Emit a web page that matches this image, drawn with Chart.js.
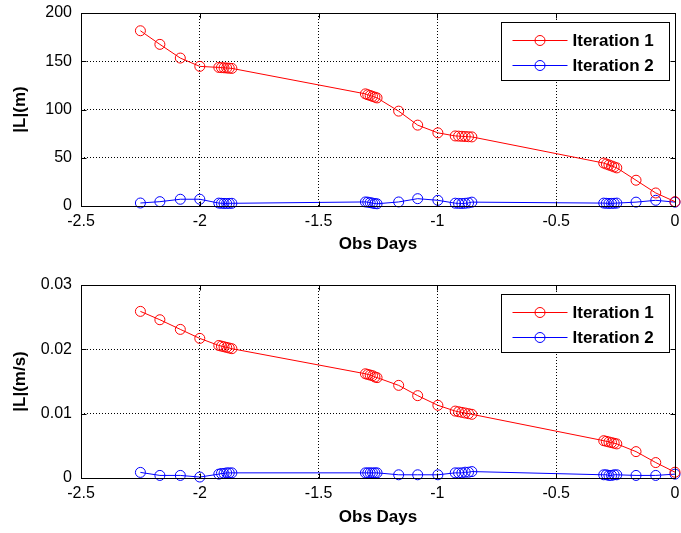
<!DOCTYPE html>
<html>
<head>
<meta charset="utf-8">
<script src="https://cdn.jsdelivr.net/npm/chart.js@4.4.1/dist/chart.umd.min.js"></script>
<style>
  body { margin: 0; background: #fff; }
  canvas { display: block; }
</style>
</head>
<body>
<canvas id="topChart" width="681" height="266"></canvas>
<canvas id="bottomChart" width="681" height="267"></canvas>
<script>
// observation times (days), shared by all four series
var obsDays = [-2.25, -2.168, -2.082, -2.0,
  -1.92, -1.909, -1.898, -1.887, -1.876, -1.865,
  -1.303, -1.293, -1.283, -1.273, -1.263, -1.254,
  -1.163, -1.083, -0.998,
  -0.925, -0.911, -0.897, -0.883, -0.869, -0.855,
  -0.300, -0.289, -0.278, -0.267, -0.256, -0.245,
  -0.164, -0.081, 0];

// |L| in m
var posIter1 = [181.6, 167.5, 153.3, 144.7,
  143.6, 143.4, 143.2, 143.0, 142.8, 142.6,
  116.2, 115.3, 114.5, 113.6, 112.8, 112.0,
  98.3, 83.8, 75.8,
  72.6, 72.4, 72.2, 72.0, 71.8, 71.6,
  44.5, 43.5, 42.5, 41.5, 40.5, 39.5,
  26.7, 13.5, 4.5];
var posIter2 = [3.1, 4.5, 7.0, 7.0,
  3.0, 2.8, 2.7, 2.6, 2.7, 2.8,
  4.2, 4.0, 3.5, 3.0, 2.5, 2.3,
  4.2, 7.6, 5.9,
  2.9, 2.7, 2.6, 2.8, 3.2, 4.0,
  3.0, 2.8, 2.7, 2.7, 2.8, 3.0,
  4.0, 5.9, 4.0];

// |L| in m/s
var velIter1 = [0.0259, 0.0246, 0.0231, 0.0217,
  0.0206, 0.0205, 0.0204, 0.0203, 0.0202, 0.0201,
  0.0162, 0.0161, 0.0160, 0.0159, 0.0157, 0.0156,
  0.0144, 0.0128, 0.0113,
  0.0104, 0.0103, 0.0102, 0.0101, 0.0100, 0.0099,
  0.0058, 0.0057, 0.0056, 0.0055, 0.0054, 0.0053,
  0.0041, 0.0024, 0.0009];
var velIter2 = [0.00087, 0.0004, 0.0004, 0.00015,
  0.0006, 0.0007, 0.0007, 0.0008, 0.0008, 0.0008,
  0.0008, 0.0008, 0.0008, 0.0008, 0.0008, 0.0008,
  0.0005, 0.0005, 0.0005,
  0.0008, 0.0008, 0.0008, 0.0009, 0.0009, 0.0010,
  0.0005, 0.0005, 0.0004, 0.0004, 0.0005, 0.0005,
  0.0004, 0.0004, 0.0006];

var seriesLabels = ["Iteration 1", "Iteration 2"];
var seriesColors = ["#ff0000", "#0000ff"];

var FONT = "'Liberation Sans', Arial, sans-serif";

function toPoints(ys) {
  var pts = [];
  for (var i in ys) {
    pts.push({x: obsDays[i], y: ys[i]});
  }
  return pts;
}

// plain tick text like matlab: -2 not -2.0
function plainTick(v) {
  return String(Number(v.toFixed(4)));
}

// box around the axes, inward ticks and a boxed legend, matlab style
var matlabBox = {
  id: 'matlabBox',
  afterDatasetsDraw: function(chart) {
    var ctx = chart.ctx;
    var a = chart.chartArea;
    var xs = chart.scales.x, ys = chart.scales.y;
    var L = Math.round(a.left) + 0.5, R = Math.round(a.right) + 0.5;
    var T = Math.round(a.top) + 0.5, B = Math.round(a.bottom) + 0.5;
    ctx.save();
    ctx.strokeStyle = '#000';
    ctx.lineWidth = 1;
    ctx.setLineDash([]);
    ctx.beginPath();
    xs.ticks.forEach(function(t) {
      var px = Math.round(xs.getPixelForValue(t.value)) + 0.5;
      ctx.moveTo(px, B); ctx.lineTo(px, B - 5);
      ctx.moveTo(px, T); ctx.lineTo(px, T + 5);
    });
    ys.ticks.forEach(function(t) {
      var py = Math.round(ys.getPixelForValue(t.value)) + 0.5;
      ctx.moveTo(L, py); ctx.lineTo(L + 5, py);
      ctx.moveTo(R, py); ctx.lineTo(R - 5, py);
    });
    ctx.stroke();
    ctx.strokeRect(L, T, R - L, B - T);

    // legend
    var bw = 168, bh = 58;
    var bx = Math.round(a.right - 6 - bw) + 0.5;
    var by = Math.round(a.top + 9) + 0.5;
    ctx.fillStyle = '#fff';
    ctx.fillRect(bx, by, bw, bh);
    ctx.strokeRect(bx, by, bw, bh);
    ctx.font = 'bold 17px ' + FONT;
    ctx.textBaseline = 'middle';
    ctx.textAlign = 'left';
    chart.data.datasets.forEach(function(ds, k) {
      var yy = by + 18 + k * 25;
      ctx.strokeStyle = ds.borderColor;
      ctx.beginPath();
      ctx.moveTo(bx + 11, yy); ctx.lineTo(bx + 66, yy);
      ctx.stroke();
      ctx.beginPath();
      ctx.arc(bx + 38.5, yy, 5, 0, Math.PI * 2);
      ctx.stroke();
      ctx.fillStyle = '#000';
      ctx.fillText(ds.label, bx + 71, yy + 1);
    });
    ctx.restore();
  }
};

function makeChart(id, s1, s2, yMax, yStep, yTitle, padTop, xHeight, xTitlePad) {
  var ctx = document.getElementById(id);
  var sets = [s1, s2];
  var datasets = [];
  for (var k = 0; k < 2; k++) {
    datasets.push({
      label: seriesLabels[k],
      data: toPoints(sets[k]),
      showLine: true,
      borderColor: seriesColors[k],
      borderWidth: 1,
      pointRadius: 5,
      pointHoverRadius: 5,
      pointBorderWidth: 1,
      pointBorderColor: seriesColors[k],
      pointBackgroundColor: 'rgba(0,0,0,0)',
      clip: 8
    });
  }
  return new Chart(ctx, {
    type: 'scatter',
    data: {datasets: datasets},
    plugins: [matlabBox],
    options: {
      responsive: false,
      animation: false,
      devicePixelRatio: 1,
      layout: {padding: {top: padTop, right: 5, left: 0, bottom: 0}},
      plugins: {legend: {display: false}, tooltip: {enabled: false}},
      scales: {
        x: {
          type: 'linear', min: -2.5, max: 0,
          afterFit: function(s) { s.height = xHeight; s.paddingLeft = 0; s.paddingRight = 0; },
          ticks: {stepSize: 0.5, color: '#000', padding: 6, font: {family: FONT, size: 16}, callback: plainTick},
          grid: {color: '#000', lineWidth: 1, drawTicks: false},
          border: {display: false, dash: [1, 2]},
          title: {display: true, text: 'Obs Days', color: '#000',
            font: {family: FONT, size: 17, weight: 'bold'}, padding: {top: 0, bottom: xTitlePad}}
        },
        y: {
          type: 'linear', min: 0, max: yMax,
          afterFit: function(s) { s.width = 81; s.paddingTop = 0; s.paddingBottom = 0; },
          ticks: {stepSize: yStep, color: '#000', padding: 9, font: {family: FONT, size: 16}, callback: plainTick},
          grid: {color: '#000', lineWidth: 1, drawTicks: false},
          border: {display: false, dash: [1, 2]},
          title: {display: true, text: yTitle, color: '#000',
            font: {family: FONT, size: 17, weight: 'bold'}, padding: {top: 10, bottom: 0}}
        }
      }
    }
  });
}

makeChart('topChart', posIter1, posIter2, 200, 50, '|L|(m)', 13, 60, 11);
makeChart('bottomChart', velIter1, velIter2, 0.03, 0.01, '|L|(m/s)', 19, 55, 5);
</script>
</body>
</html>
